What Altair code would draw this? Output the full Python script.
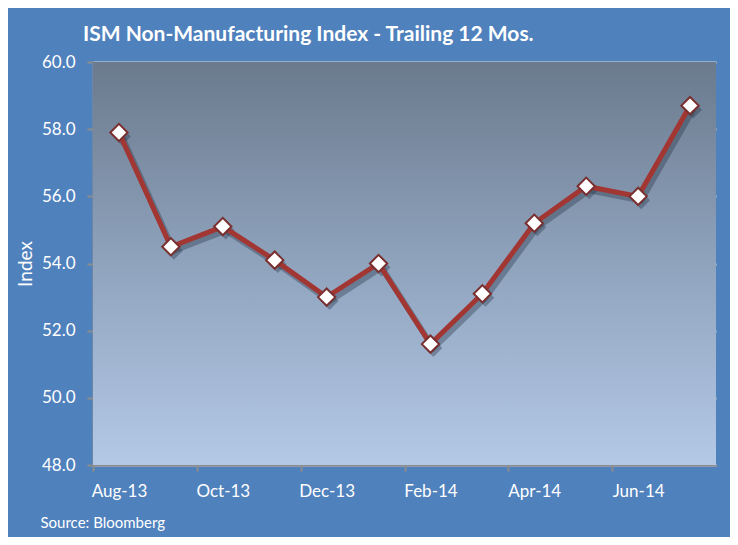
import altair as alt
import pandas as pd

months = ["Aug-13", "Sep-13", "Oct-13", "Nov-13", "Dec-13", "Jan-14",
          "Feb-14", "Mar-14", "Apr-14", "May-14", "Jun-14", "Jul-14"]
values = [57.9, 54.5, 55.1, 54.1, 53.0, 54.0, 51.6, 53.1, 55.2, 56.3, 56.0, 58.7]
y_ticks = [48, 50, 52, 54, 56, 58, 60]
label_idx = [0, 2, 4, 6, 8, 10, 12]

df = pd.DataFrame({"idx": list(range(len(months))), "month": months, "value": values})

W, H = 623, 403
cat_w = W / 12.0
FONT = "Lato"
BLUE = "#4f81bd"
RED = "#a23633"

label_map = "{" + ",".join(f"'{i}':'{m}'" for i, m in enumerate(months)) + "}"

xscale = alt.Scale(domain=[-0.5, 11.5], nice=False, zero=False)
yscale = alt.Scale(domain=[48, 60], nice=False, zero=False)

x_axis = alt.Axis(
    values=label_idx,
    labelExpr=f"({label_map})[datum.value] || ''",
    tickOffset=-cat_w / 2,
    labelOffset=cat_w / 2,
    grid=False,
    domainColor="#8c8c8c", domainWidth=2,
    tickColor="#8c8c8c", tickWidth=2, tickSize=6,
    labelColor="white", labelFont=FONT, labelFontSize=17, labelPadding=12,
    labelFlush=False, labelOverlap=False,
    title="Source: Bloomberg", titleFont=FONT, titleFontSize=15,
    titleFontWeight="normal", titleColor="white",
    titleAnchor="start", titleAlign="left", titleX=-53, titleY=50,
)
y_axis = alt.Axis(
    values=y_ticks, format=".1f",
    grid=True, gridColor="#d9d9d9", gridWidth=2,
    domainColor="#8c8c8c", domainWidth=2,
    tickColor="#8c8c8c", tickWidth=2, tickSize=6,
    labelColor="white", labelFont=FONT, labelFontSize=17, labelPadding=12,
    title="Index", titleFont=FONT, titleFontSize=19, titleFontWeight="normal",
    titleColor="white", titleX=-68, titleBaseline="middle",
)

bg = alt.Chart(pd.DataFrame({"a": [0]})).mark_rect(
    color=alt.Gradient(
        gradient="linear", x1=0, x2=0, y1=0, y2=1,
        stops=[alt.GradientStop(color="#6b7a8d", offset=0),
               alt.GradientStop(color="#8fa3bd", offset=0.5),
               alt.GradientStop(color="#b4c9e6", offset=1)],
    )
).encode(
    x=alt.datum(-0.5, scale=xscale, axis=x_axis, type="quantitative"),
    x2=alt.datum(11.5),
    y=alt.datum(48, scale=yscale, axis=y_axis, type="quantitative"),
    y2=alt.datum(60),
)

base = alt.Chart(df).encode(
    x=alt.X("idx:Q", scale=xscale, axis=x_axis),
    y=alt.Y("value:Q", scale=yscale, axis=y_axis),
)

shadow_line = base.mark_line(color="#1f2d40", opacity=0.35, strokeWidth=6,
                             xOffset=3, yOffset=4)
shadow_pts = base.mark_point(shape="diamond", filled=True, color="#1f2d40",
                             opacity=0.35, size=320, xOffset=3, yOffset=4)
line = base.mark_line(color=RED, strokeWidth=5)
pts = base.mark_point(shape="diamond", filled=True, fill="white", stroke="#7a2f2f",
                      strokeWidth=2, opacity=1, size=300)

chart = alt.layer(bg, shadow_line, shadow_pts, line, pts).properties(
    width=W, height=H,
    autosize=alt.AutoSizeParams(type="none"),
    padding={"left": 85, "top": 54, "right": 14, "bottom": 72},
    background=BLUE,
    title=alt.TitleParams(
        "ISM Non-Manufacturing Index - Trailing 12 Mos.",
        anchor="start", frame="group", dx=-10, offset=8, color="white", font=FONT,
        fontSize=21, fontWeight="bold",
    ),
).configure_view(stroke=None)

chart.save("out.html", embed_options={"renderer": "svg", "actions": False})
